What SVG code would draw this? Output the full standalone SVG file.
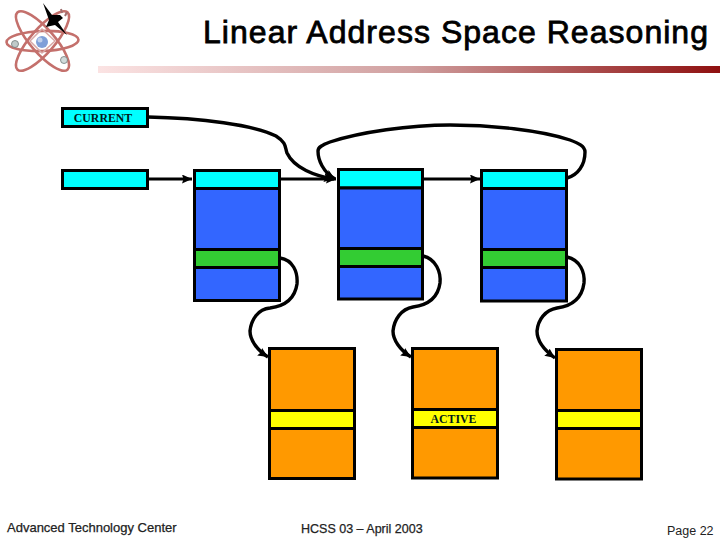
<svg xmlns="http://www.w3.org/2000/svg" width="720" height="540" viewBox="0 0 720 540">
<style>
.box{stroke:#000;stroke-width:3}
.cy{fill:#00ffff}.bl{fill:#3366ff}.gr{fill:#33cc33}.or{fill:#ff9900}.ye{fill:#ffff00}
.c{fill:none;stroke:#000;stroke-width:3.400}
.s{fill:none;stroke:#000;stroke-width:3}
.lb{font-family:"Liberation Serif",serif;font-size:11.800px;font-weight:bold;fill:#001a1a;text-anchor:middle}
.ft{font-family:"Liberation Sans",Arial,sans-serif;fill:#222;stroke:#222;stroke-width:.25}
</style>
<defs>
<linearGradient id="bar"><stop offset="0" stop-color="#fbe3e3"/><stop offset="0.5" stop-color="#d0a0a0"/><stop offset="1" stop-color="#8f1010"/></linearGradient>
<marker id="a" markerUnits="userSpaceOnUse" markerWidth="12" markerHeight="10" refX="10" refY="4.500" orient="auto"><path d="M0 0L10 4.500L0 9L1.500 4.500Z" fill="#000"/></marker>
<filter id="soft"><feGaussianBlur stdDeviation=".45"/></filter>
</defs>
<rect width="720" height="540" fill="#fff"/>
<g id="logo" filter="url(#soft)">
<g fill="none" stroke="#c4706c" stroke-width="2.600">
<ellipse cx="42.500" cy="41" rx="36" ry="10" transform="rotate(-2 42.500 41)"/>
<ellipse cx="42.500" cy="41" rx="38" ry="12" transform="rotate(49 42.500 41)"/>
<ellipse cx="42.500" cy="41" rx="38" ry="12" transform="rotate(-49 42.500 41)"/>
</g>
<path d="M42 29L55 41L42 53L30 41Z" fill="none" stroke="#d8a8a6" stroke-width="1.500"/>
<circle cx="42" cy="42" r="6" fill="#7f9fd8"/>
<circle cx="40" cy="40" r="2.500" fill="#c0d0ec"/>
<circle cx="15" cy="44" r="3.500" fill="#c0caca" stroke="#6e7a7a" stroke-width=".8"/>
<circle cx="64" cy="60" r="3.500" fill="#d0dada" stroke="#6e7a7a" stroke-width=".8"/>
<path d="M43 3L49 11L52 15L60 15L63 18L58 22L67 35L55 25L46 27L49 20Z" fill="#000"/>
<path d="M61 9L62 13M67 12L65 16" stroke="#a07070" stroke-width="2" fill="none"/>
</g>
<text id="title" x="203" y="43" textLength="505" lengthAdjust="spacing" font-family="'Liberation Sans',Arial,sans-serif" font-size="32" fill="#000" stroke="#000" stroke-width=".8">Linear Address Space Reasoning</text>
<rect x="98" y="66" width="622" height="7" fill="url(#bar)"/>
<g id="connectors">
<path class="c" d="M148 117C200 118 255 125 276 136C287 143 285 148 287 153C294 168 315 176 334 179" marker-end="url(#a)"/>
<path class="c" d="M567 178C578 175 585 165 585 152C585 146 578 143 570 140C540 130 490 125 450 125C410 125 360 132 330 142C322 145 318 147 318 151C318 160 323 172 335 179" marker-end="url(#a)"/>
<path class="s" d="M148 179H192" marker-end="url(#a)"/>
<path class="s" d="M280 179H336" marker-end="url(#a)"/>
<path class="s" d="M423 179H480" marker-end="url(#a)"/>
<path class="c" d="M280 258C293 260 298 272 297 284C295 298 285 306 270 308C258 309 251 320 250 331C250 340 257 350 268 357" marker-end="url(#a)"/>
<path class="c" d="M423 256C436 259 441 272 440 283C438 298 428 305 413 307C401 309 394 320 393 331C393 340 400 350 411 357" marker-end="url(#a)"/>
<path class="c" d="M567 257C580 260 585 272 584 283C582 298 572 306 557 308C545 310 538 320 537 331C537 340 544 350 555 358" marker-end="url(#a)"/>
</g>
<g id="current"><rect class="box cy" x="62.500" y="108.500" width="85" height="18"/><text class="lb" x="103" y="122">CURRENT</text></g>
<g id="head"><rect class="box cy" x="62.500" y="170.500" width="85" height="18"/></g>
<g id="page1">
<rect class="box cy" x="194.500" y="170.500" width="85" height="18"/>
<rect class="box bl" x="194.500" y="188.500" width="85" height="61"/>
<rect class="box gr" x="194.500" y="249.500" width="85" height="18"/>
<rect class="box bl" x="194.500" y="267.500" width="85" height="33"/>
</g>
<g id="page2">
<rect class="box cy" x="338.500" y="169.500" width="84" height="18.500"/>
<rect class="box bl" x="338.500" y="188" width="84" height="60.500"/>
<rect class="box gr" x="338.500" y="248.500" width="84" height="18"/>
<rect class="box bl" x="338.500" y="266.500" width="84" height="32.500"/>
</g>
<g id="page3">
<rect class="box cy" x="481.500" y="170.500" width="85" height="18"/>
<rect class="box bl" x="481.500" y="188.500" width="85" height="61"/>
<rect class="box gr" x="481.500" y="249.500" width="85" height="18"/>
<rect class="box bl" x="481.500" y="267.500" width="85" height="33.500"/>
</g>
<g id="frame1">
<rect class="box or" x="269.500" y="348.500" width="85" height="62"/>
<rect class="box ye" x="269.500" y="410.500" width="85" height="18"/>
<rect class="box or" x="269.500" y="428.500" width="85" height="50"/>
</g>
<g id="frame2">
<rect class="box or" x="412.500" y="348.500" width="85" height="61"/>
<rect class="box ye" x="412.500" y="409.500" width="85" height="18"/>
<rect class="box or" x="412.500" y="427.500" width="85" height="50.500"/>
<text class="lb" x="453.500" y="423">ACTIVE</text>
</g>
<g id="frame3">
<rect class="box or" x="556.500" y="349.500" width="85" height="61"/>
<rect class="box ye" x="556.500" y="410.500" width="85" height="18"/>
<rect class="box or" x="556.500" y="428.500" width="85" height="50.500"/>
</g>
<text class="ft" x="7" y="532" font-size="13">Advanced Technology Center</text>
<text class="ft" x="301" y="533" font-size="12.500">HCSS 03 – April 2003</text>
<text class="ft" x="667" y="535" font-size="12.500" style="stroke:none">Page 22</text>
</svg>
